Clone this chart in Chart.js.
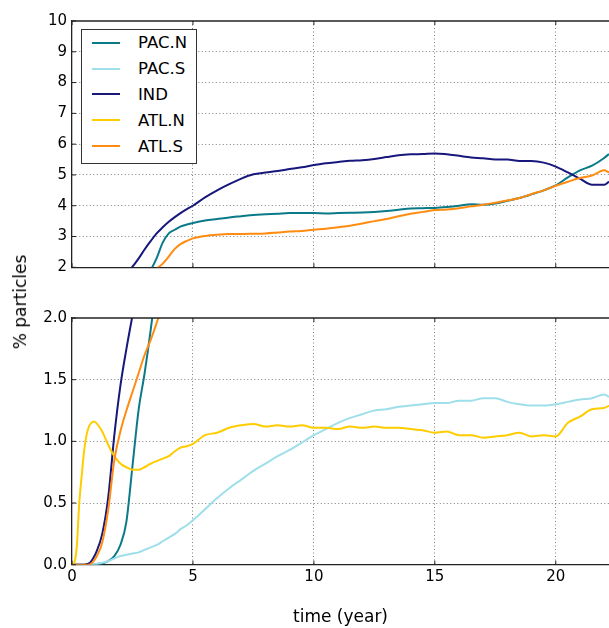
<!DOCTYPE html>
<html>
<head>
<meta charset="utf-8">
<script src="https://cdn.jsdelivr.net/npm/chart.js@4.4.1/dist/chart.umd.min.js"></script>
<style>
  html, body { margin: 0; padding: 0; background: #fff; }
  #wrap { position: relative; width: 609px; height: 628px; overflow: hidden; font-family: 'DejaVu Sans', sans-serif; }
  canvas { position: absolute; left: 0; }
  #topChart { top: 0; }
  #botChart { top: 290px; }
  #ylabel { position: absolute; left: 20px; top: 302px; transform: translate(-50%, -50%) rotate(-90deg);
            font-size: 17px; white-space: nowrap; color: #000; }
  #legend { position: absolute; left: 81px; top: 29px; width: 114px; height: 133px;
            border: 1px solid #333; background: #fff; }
  #legend .item { display: flex; align-items: center; height: 25.8px; }
  #legend .sw { display: inline-block; width: 28px; height: 2px; margin-left: 10px; }
  #legend .lb { margin-left: 18px; font-size: 16.5px; color: #000; }
</style>
</head>
<body>
<div id="wrap">
  <canvas id="topChart" width="609" height="290"></canvas>
  <canvas id="botChart" width="609" height="338"></canvas>
  <div id="ylabel">% particles</div>
  <div id="legend"></div>
</div>
<script>
// ===== data =====
const years = [0, 0.1, 0.2, 0.3, 0.4, 0.5, 0.6, 0.7, 0.8, 0.9, 1.0,
  1.25, 1.5, 1.75, 2.0, 2.25, 2.5, 2.75, 3.0, 3.25, 3.5, 3.75, 4.0, 4.25, 4.5, 4.75, 5.0,
  5.5, 6, 6.5, 7, 7.5, 8, 8.5, 9, 9.5, 10, 10.5, 11, 11.5, 12, 12.5, 13, 13.5, 14, 14.5,
  15, 15.5, 16, 16.5, 17, 17.5, 18, 18.5, 19, 19.5, 20, 20.5, 21, 21.5, 22, 22.2];

const pacN = [0, 0, 0, 0, 0, 0, 0, 0, 0, 0, 0.005,
  0.01, 0.03, 0.07, 0.16, 0.35, 0.8, 1.25, 1.55, 1.9, 2.3, 2.8, 3.1, 3.22, 3.33, 3.39, 3.44,
  3.52, 3.57, 3.62, 3.66, 3.7, 3.72, 3.74, 3.76, 3.76, 3.76, 3.75, 3.76, 3.77, 3.78, 3.8,
  3.83, 3.87, 3.91, 3.92, 3.93, 3.96, 4.0, 4.05, 4.03, 4.07, 4.16, 4.25, 4.37, 4.5, 4.66,
  4.92, 5.15, 5.3, 5.55, 5.68];

const pacS = [0, 0, 0, 0, 0, 0, 0, 0, 0, 0, 0.005,
  0.015, 0.03, 0.05, 0.07, 0.08, 0.09, 0.1, 0.12, 0.14, 0.16, 0.19, 0.22, 0.25, 0.29, 0.32, 0.36,
  0.45, 0.54, 0.62, 0.69, 0.76, 0.82, 0.88, 0.93, 0.99, 1.05, 1.1, 1.15, 1.19, 1.22, 1.25,
  1.26, 1.28, 1.29, 1.3, 1.31, 1.31, 1.33, 1.33, 1.35, 1.35, 1.32, 1.3, 1.29, 1.29, 1.3,
  1.32, 1.34, 1.35, 1.38, 1.36];

const ind = [0, 0, 0, 0, 0, 0, 0.005, 0.01, 0.03, 0.06, 0.1,
  0.25, 0.55, 1.05, 1.45, 1.75, 2.02, 2.28, 2.58, 2.85, 3.1, 3.3, 3.48, 3.63, 3.77, 3.89, 4.0,
  4.27, 4.5, 4.7, 4.88, 5.02, 5.08, 5.13, 5.19, 5.25, 5.32, 5.38, 5.42, 5.46, 5.48, 5.52,
  5.58, 5.64, 5.67, 5.68, 5.7, 5.67, 5.62, 5.57, 5.54, 5.5, 5.5, 5.45, 5.45, 5.4, 5.27,
  5.08, 4.88, 4.68, 4.68, 4.78];

const atlN = [0, 0.02, 0.15, 0.5, 0.72, 0.92, 1.05, 1.12, 1.15, 1.16, 1.15,
  1.08, 0.97, 0.88, 0.82, 0.79, 0.77, 0.77, 0.79, 0.82, 0.84, 0.86, 0.88, 0.92, 0.95, 0.96, 0.98,
  1.05, 1.07, 1.11, 1.13, 1.14, 1.12, 1.13, 1.12, 1.13, 1.11, 1.11, 1.1, 1.12, 1.11, 1.12,
  1.11, 1.11, 1.1, 1.09, 1.07, 1.08, 1.05, 1.05, 1.03, 1.04, 1.05, 1.07, 1.04, 1.05, 1.04,
  1.15, 1.2, 1.26, 1.27, 1.29];

const atlS = [0, 0, 0, 0, 0, 0, 0, 0, 0.01, 0.03, 0.06,
  0.18, 0.45, 0.85, 1.08, 1.25, 1.4, 1.55, 1.7, 1.82, 1.96, 2.12, 2.35, 2.6, 2.76, 2.86, 2.94,
  3.02, 3.06, 3.08, 3.08, 3.09, 3.1, 3.13, 3.16, 3.18, 3.22, 3.25, 3.3, 3.35, 3.42, 3.5,
  3.57, 3.66, 3.74, 3.8, 3.86, 3.88, 3.92, 3.98, 4.03, 4.1, 4.17, 4.25, 4.38, 4.5, 4.65,
  4.78, 4.9, 4.98, 5.15, 5.08];

const seriesNames  = ['PAC.N', 'PAC.S', 'IND', 'ATL.N', 'ATL.S'];
const seriesValues = [pacN, pacS, ind, atlN, atlS];
const seriesColors = ['#0b7a88', '#9edfea', '#17177c', '#ffcc00', '#ff8c10'];

const xTicks = [0, 5, 10, 15, 20];
const xMax = 22.2;

// ===== helpers =====
const FONT = 'DejaVu Sans';
const gridColor = 'rgba(0,0,0,0.5)';
const spineColor = '#222';

function makeDatasets() {
  return seriesNames.map((name, i) => ({
    label: name,
    data: years.map((t, k) => ({ x: t, y: seriesValues[i][k] })),
    borderColor: seriesColors[i],
    borderWidth: 2,
    pointRadius: 0,
    cubicInterpolationMode: 'monotone',
    clip: 0,
    order: seriesNames.length - i  // later series on top, like matplotlib
  }));
}

// solid top spine + inward tick marks (matplotlib classic look)
const frameTicks = {
  id: 'frameTicks',
  afterDraw(chart) {
    const { ctx, chartArea } = chart;
    const xs = chart.scales.x, ys = chart.scales.y;
    ctx.save();
    ctx.strokeStyle = spineColor;
    ctx.lineWidth = 1.3;
    ctx.beginPath();
    ctx.moveTo(chartArea.left, chartArea.top);
    ctx.lineTo(chartArea.right, chartArea.top);
    ctx.stroke();
    ctx.lineWidth = 1;
    ctx.beginPath();
    xs.ticks.forEach(t => {
      const px = xs.getPixelForValue(t.value);
      ctx.moveTo(px, chartArea.bottom);
      ctx.lineTo(px, chartArea.bottom - 4);
      ctx.moveTo(px, chartArea.top);
      ctx.lineTo(px, chartArea.top + 4);
    });
    ys.ticks.forEach(t => {
      const py = ys.getPixelForValue(t.value);
      ctx.moveTo(chartArea.left, py);
      ctx.lineTo(chartArea.left + 4, py);
    });
    ctx.stroke();
    ctx.restore();
  }
};

function xScale(showLabels, axisHeight) {
  return {
    type: 'linear',
    min: 0,
    max: xMax,
    afterBuildTicks: s => { s.ticks = xTicks.map(v => ({ value: v })); },
    ticks: {
      display: showLabels,
      padding: 3,
      color: '#000',
      font: { family: FONT, size: 15 }
    },
    grid: {
      drawTicks: false,
      color: c => (c.tick && c.tick.value === 0) ? 'rgba(0,0,0,0)' : gridColor,
      lineWidth: 1
    },
    border: { display: true, color: spineColor, width: 1.3, dash: [1, 2.5] },
    title: {
      display: showLabels,
      text: 'time (year)',
      color: '#000',
      font: { family: FONT, size: 17 },
      padding: { top: 0, bottom: 0 }
    },
    afterFit: s => { s.height = axisHeight; }
  };
}

function yScale(min, max, step, fmt) {
  return {
    type: 'linear',
    min: min,
    max: max,
    ticks: {
      stepSize: step,
      padding: 5,
      color: '#000',
      font: { family: FONT, size: 15 },
      callback: v => fmt(v)
    },
    grid: {
      drawTicks: false,
      color: c => (c.tick && (c.tick.value === min || c.tick.value === max)) ? 'rgba(0,0,0,0)' : gridColor,
      lineWidth: 1
    },
    border: { display: true, color: spineColor, width: 1.3, dash: [1, 2.5] },
    afterFit: s => { s.width = 72; }
  };
}

function makeChart(id, yMin, yMax, yStep, fmt, showX, padTop, axisHeight) {
  return new Chart(document.getElementById(id).getContext('2d'), {
    type: 'line',
    data: { datasets: makeDatasets() },
    options: {
      responsive: false,
      animation: false,
      devicePixelRatio: 1,
      layout: { padding: { top: padTop, left: 0, right: 0, bottom: 0 } },
      scales: {
        x: xScale(showX, axisHeight),
        y: yScale(yMin, yMax, yStep, fmt)
      },
      plugins: { legend: { display: false }, tooltip: { enabled: false } }
    },
    plugins: [frameTicks]
  });
}

// upper panel (2..10) and lower panel (0..2): same data, broken y axis
makeChart('topChart', 2, 10, 1, v => String(v), false, 21, 22.7);
makeChart('botChart', 0, 2, 0.5, v => v.toFixed(1), true, 28, 63.3);

// ===== legend =====
const legendEl = document.getElementById('legend');
seriesNames.forEach((name, i) => {
  const row = document.createElement('div');
  row.className = 'item';
  const sw = document.createElement('span');
  sw.className = 'sw';
  sw.style.background = seriesColors[i];
  const lb = document.createElement('span');
  lb.className = 'lb';
  lb.textContent = name;
  row.appendChild(sw);
  row.appendChild(lb);
  legendEl.appendChild(row);
});
</script>
</body>
</html>
